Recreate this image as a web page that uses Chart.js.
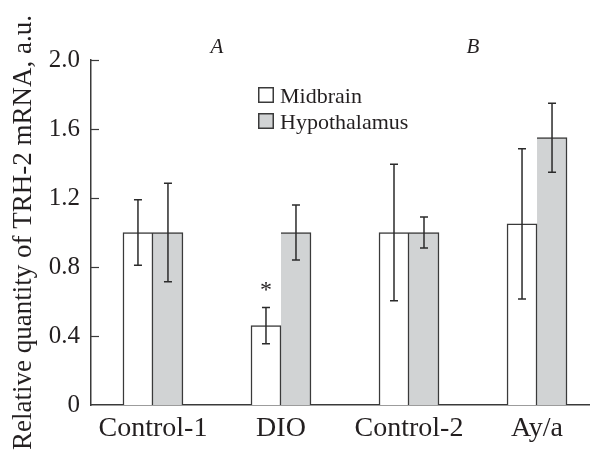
<!DOCTYPE html>
<html><head><meta charset="utf-8">
<script src="https://cdn.jsdelivr.net/npm/chart.js@4.4.0/dist/chart.umd.min.js"></script>
<style>html,body{margin:0;padding:0;background:#fff;overflow:hidden}</style>
</head><body>
<canvas id="c" width="590" height="450"></canvas>
<script>
const categories = ['Control-1', 'DIO', 'Control-2', 'Ay/a'];
const seriesNames = ['Midbrain', 'Hypothalamus'];
const midbrain = [1.00, 0.46, 1.00, 1.05];
const midbrainErr = [0.19, 0.105, 0.395, 0.435];
const hypothalamus = [1.00, 1.00, 1.00, 1.55];
const hypothalamusErr = [0.285, 0.16, 0.09, 0.20];
const midbrainMarks = ['', '*', '', ''];
const panelLabels = ['A', 'B'];
const panelGroups = [[0, 1], [2, 3]];
const yTicks = [0, 0.4, 0.8, 1.2, 1.6, 2.0];
const yTickLabels = ['0', '0.4', '0.8', '1.2', '1.6', '2.0'];
const yTitle = 'Relative quantity of TRH-2 mRNA, a.u.';

const SERIF = '"Liberation Serif", "Times New Roman", serif';
const INK = '#231f20';
const LINE = '#3a3a3a';
const GREY = '#d1d3d4';

const values = [midbrain, hypothalamus];
const errors = [midbrainErr, hypothalamusErr];
const fills = ['#ffffff', GREY];

const datasets = seriesNames.map((name, di) => ({
  label: name,
  data: values[di].map((v, i) => ({ x: i, y: v })),
  backgroundColor: fills[di],
  borderColor: LINE,
  borderWidth: di === 0 ? { left: 1.5, top: 1.5, right: 1.5, bottom: 0 } : { left: 0, top: 1.5, right: 1.5, bottom: 0 },
  borderSkipped: false,
  barThickness: 30
}));

const decor = {
  id: 'decor',
  afterDatasetsDraw(chart) {
    const { ctx, scales: { y } } = chart;
    ctx.save();
    ctx.strokeStyle = '#2b2b2b';
    ctx.lineWidth = 1.5;
    chart.data.datasets.forEach((ds, di) => {
      const meta = chart.getDatasetMeta(di);
      meta.data.forEach((el, j) => {
        const v = values[di][j], e = errors[di][j];
        const yt = y.getPixelForValue(v + e), yb = y.getPixelForValue(v - e);
        const cx = el.x;
        ctx.beginPath();
        ctx.moveTo(cx, yt); ctx.lineTo(cx, yb);
        ctx.moveTo(cx - 4, yt); ctx.lineTo(cx + 4, yt);
        ctx.moveTo(cx - 4, yb); ctx.lineTo(cx + 4, yb);
        ctx.stroke();
      });
    });
    // significance marks
    const meta0 = chart.getDatasetMeta(0);
    ctx.fillStyle = INK;
    ctx.font = '24px ' + SERIF;
    ctx.textAlign = 'center';
    ctx.textBaseline = 'middle';
    midbrainMarks.forEach((m, j) => {
      if (!m) return;
      const el = meta0.data[j];
      const yt = y.getPixelForValue(midbrain[j] + midbrainErr[j]);
      ctx.fillText(m, el.x, yt - 17);
    });
    ctx.restore();
  },
  afterDraw(chart) {
    const { ctx, chartArea: ca, scales: { x, y } } = chart;
    ctx.save();
    // inward y ticks
    ctx.strokeStyle = LINE;
    ctx.lineWidth = 1.2;
    yTicks.forEach(t => {
      if (t === 0) return;
      const py = Math.round(y.getPixelForValue(t)) + 0.5;
      ctx.beginPath();
      ctx.moveTo(ca.left, py); ctx.lineTo(ca.left + 8, py);
      ctx.stroke();
    });
    // panel labels
    ctx.fillStyle = INK;
    ctx.font = 'italic 21px ' + SERIF;
    ctx.textAlign = 'center';
    ctx.textBaseline = 'alphabetic';
    panelLabels.forEach((lab, k) => {
      const g = panelGroups[k];
      const px = x.getPixelForValue((g[0] + g[1]) / 2);
      ctx.fillText(lab, px, ca.top - 7);
    });
    // legend
    const lx = ca.left + 167, ly = ca.top + 27;
    ctx.font = '22px ' + SERIF;
    ctx.textAlign = 'left';
    seriesNames.forEach((name, di) => {
      const by = ly + di * 26;
      ctx.fillStyle = fills[di];
      ctx.fillRect(lx, by, 15, 15);
      ctx.strokeStyle = LINE;
      ctx.lineWidth = 1.5;
      ctx.strokeRect(lx + 0.75, by + 0.75, 14.5, 14.5);
      ctx.fillStyle = INK;
      ctx.fillText(name, lx + 22, by + 16);
    });
    ctx.restore();
  }
};

new Chart(document.getElementById('c'), {
  type: 'bar',
  data: { datasets },
  options: {
    responsive: false,
    devicePixelRatio: 1,
    animation: false,
    layout: { padding: { top: 60, right: 1, left: 0, bottom: 0 } },
    plugins: { legend: { display: false }, tooltip: { enabled: false } },
    scales: {
      x: {
        type: 'linear',
        offset: false,
        min: -0.484,
        max: 3.406,
        grid: { display: false, drawTicks: false },
        border: { display: true, color: LINE, width: 1.5 },
        afterBuildTicks: s => { s.ticks = categories.map((c, i) => ({ value: i })); },
        afterFit: s => { s.height = 45; },
        ticks: {
          autoSkip: false,
          maxRotation: 0,
          padding: 7,
          color: INK,
          font: { family: SERIF, size: 28 },
          callback: (v, i) => categories[i]
        }
      },
      y: {
        min: 0,
        max: 2,
        grid: { display: false, drawTicks: false },
        border: { display: true, color: LINE, width: 1.5 },
        afterBuildTicks: s => { s.ticks = yTicks.map(v => ({ value: v })); },
        afterFit: s => { s.width = 91; },
        ticks: {
          padding: 11,
          color: INK,
          font: { family: SERIF, size: 25 },
          callback: (v, i) => yTickLabels[i]
        },
        title: {
          display: true,
          text: yTitle,
          color: INK,
          font: { family: SERIF, size: 27 },
          padding: { top: 8, bottom: 0 }
        }
      }
    }
  },
  plugins: [decor]
});
</script>
</body></html>
